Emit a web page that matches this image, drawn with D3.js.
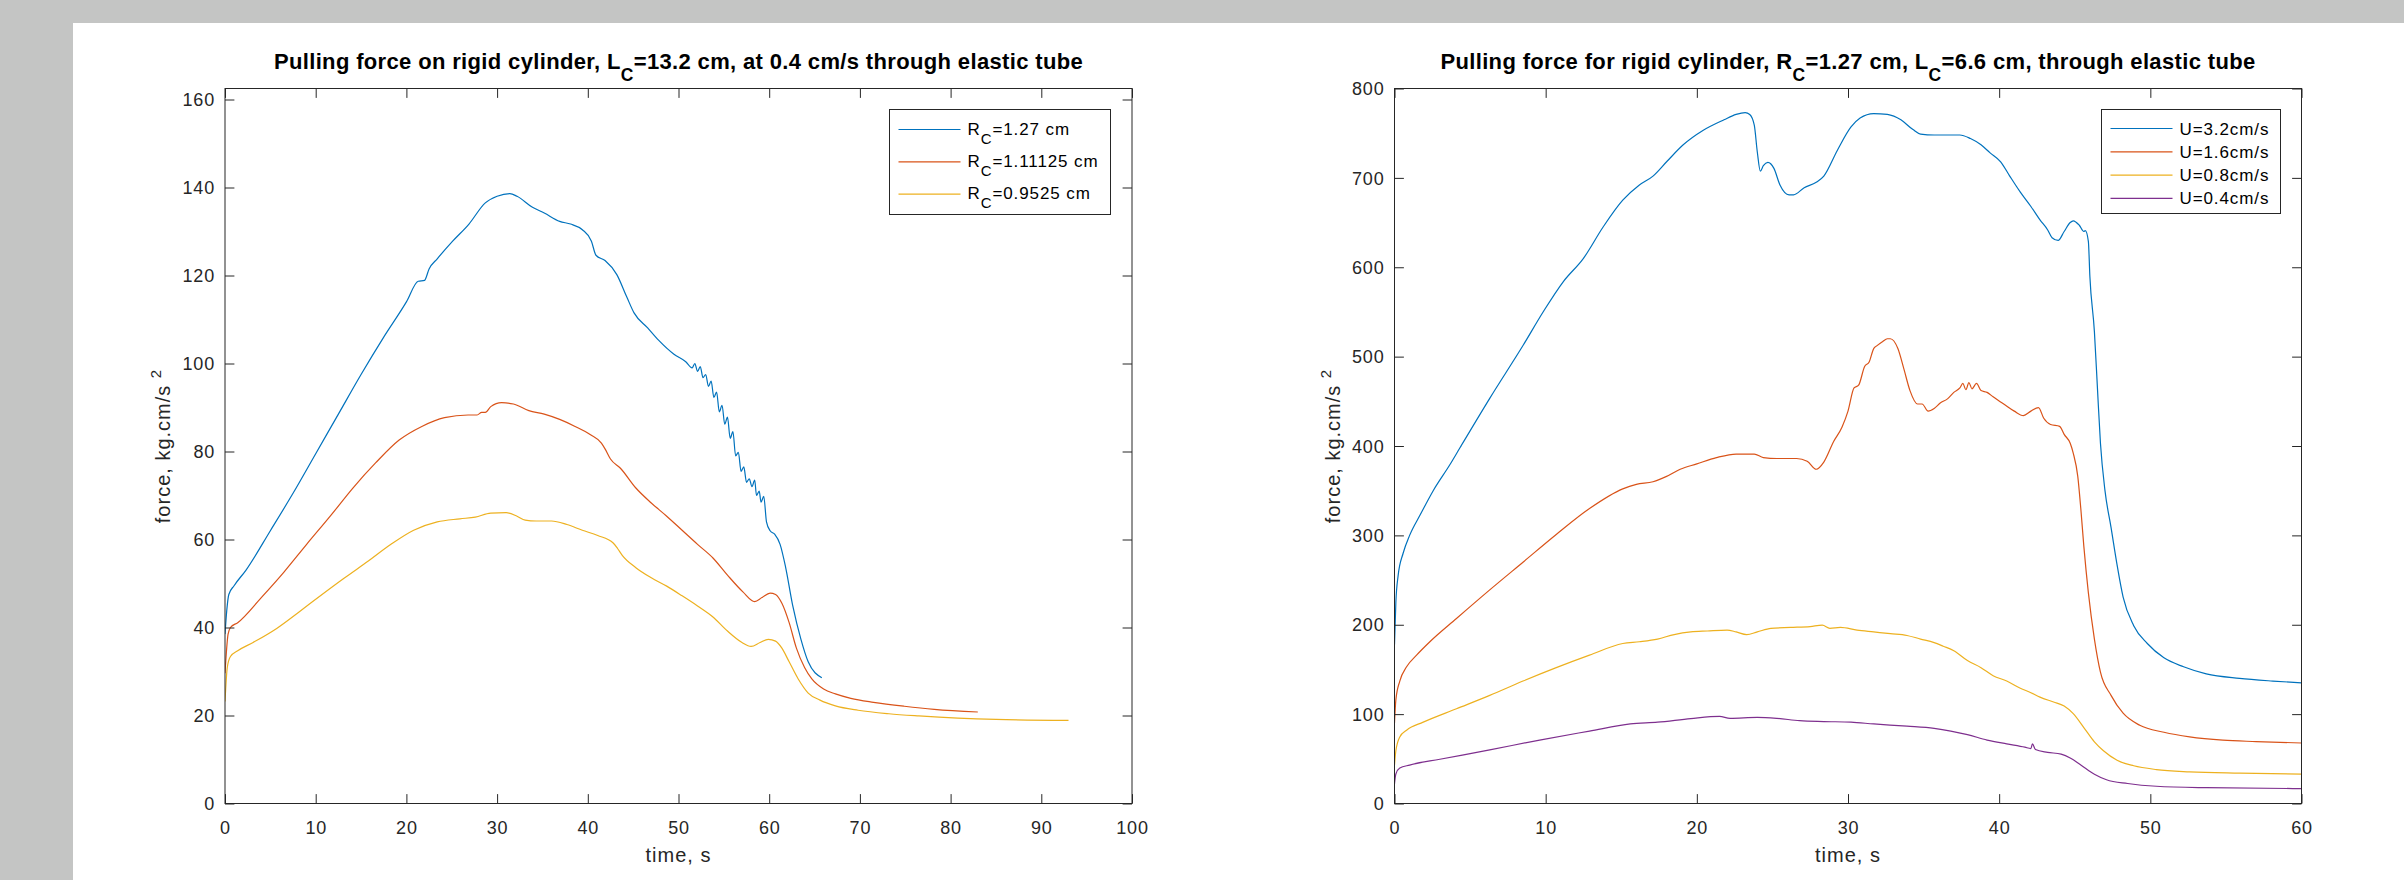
<!DOCTYPE html>
<html>
<head>
<meta charset="utf-8">
<script src="https://cdn.jsdelivr.net/npm/d3@7"></script>
<style>
    body { margin: 0; background: #c4c5c4; }
    svg { display: block; }
    text { font-family: "Liberation Sans", Arial, Helvetica, sans-serif; fill: #262626; }
    .tick text { font-size: 18px; letter-spacing: 0.8px; }
    .tick line { stroke: #262626; }
    .title { font-size: 22px; font-weight: bold; letter-spacing: 0.35px; fill: #000; }
    .axislabel { font-size: 20px; letter-spacing: 1px; }
    .legend text { font-size: 17px; letter-spacing: 0.9px; fill: #000; }
</style>
</head>
<body>
<script>
    // ---- data: [time s, force kg.cm/s^2] ----
    var leftR127 = [[0,38.5],[0.2,44],[0.42,47.5],[1,49.5],[2.3,53],[5,62],[7.5,70.5],[10,79.5],[12.5,88.5],[15,97.5],
        [17.5,106],[20,114],[21.3,118.7],[22,118.9],[22.5,121.5],[23.4,123.8],[25.1,127.8],[26.9,131.7],[28.7,136.5],
        [30,138],[31.4,138.6],[32.2,138],[33.9,135.5],[35.2,134.2],[36.9,132.3],[38.1,131.7],[39.4,130.4],[40.4,127.8],
        [40.9,124.6],[41.9,123.4],[43.2,120.2],[44.3,115.1],[45.1,111.5],[46.6,108.1],[47.8,105.3],[49.5,102.1],[50.8,100.4],
        [51.5,99],[51.8,100],[52.1,98.2],[52.4,99.3],[52.7,96.8],[53,97.5],[53.3,94.8],[53.6,96],[53.9,92.3],[54.2,93.5],
        [54.5,89],[54.8,90.5],[55.1,86.2],[55.4,87.8],[55.7,83],[56,84.5],[56.3,79],[56.6,79.8],[56.9,75.5],[57.2,76.5],
        [57.5,73],[57.8,73.8],[58.1,72],[58.4,73.5],[58.6,70],[58.9,71],[59.1,68.5],[59.4,69.8],[59.7,64],[60.1,62],
        [60.6,61.2],[61.2,58.9],[61.8,53.8],[62.6,44.9],[63.5,37.3],[64.3,32.2],[65.8,28.6]];
    var leftR111 = [[0,29.6],[0.34,38.5],[0.6,40],[1.4,41.1],[4,46.8],[6.5,52.6],[9,58.9],[11.6,65.3],[14.1,71.7],[16.6,77.4],
        [19.2,82.6],[21.7,85.7],[24.2,87.7],[26.8,88.3],[27.8,88.3],[28.3,88.9],[28.7,88.9],[29.3,90.2],[30.5,91.1],[31.8,90.8],
        [33.5,89.3],[35.2,88.5],[36.9,87.3],[38.6,85.7],[40.3,83.8],[41.5,81.9],[41.9,80.6],[42.5,78.3],[43.6,76.2],[45.3,71.7],
        [47,68.3],[48.7,65.3],[50.4,62.1],[52.1,58.9],[53.8,55.8],[55.4,51.9],[57.1,48.1],[58.4,45.9],[59.2,46.8],[60.1,47.8],
        [60.7,47.5],[61.4,45.5],[62.2,41.1],[63,35.3],[63.9,30.9],[64.7,28.3],[66,26],[67.3,24.9],[69,23.9],[71.5,23],
        [74.9,22.1],[78.2,21.4],[83,20.8]];
    var leftR095 = [[0,23.2],[0.25,30.9],[0.6,33.4],[1.4,34.7],[3.1,36.6],[5.7,39.8],[8.2,43.6],[10.7,47.5],[13.2,51.3],
        [15.8,55.1],[18.3,58.9],[20.8,62.1],[23.4,64],[25.9,64.7],[27.6,65.1],[29.3,66],[31,66.1],[32.2,65.3],[33.1,64.4],
        [34.3,64.2],[36,64.2],[37.7,63.4],[39.4,62.1],[41.1,60.9],[42.8,59.2],[43.3,57.9],[43.8,56.4],[45.3,53.6],[47,51.3],
        [48.7,49.4],[50.4,47.2],[52.1,44.9],[53.8,42.4],[55.4,39.2],[57,36.6],[58,35.7],[59,36.6],[59.9,37.3],[60.7,36.9],
        [61.4,35.3],[62.2,32.2],[63.2,28.3],[64.3,25.1],[65.6,23.5],[67.3,22.2],[69.8,21.2],[73.2,20.4],[76.5,19.9],
        [80.8,19.4],[85,19.1],[93,18.9]];

    var rightU32 = [[0,178],[0.09,225],[0.24,255],[0.57,280],[1,300],[1.7,323],[2.56,350],[3.66,379],[4.33,398],[6.31,453.6],
        [8.52,513],[9.85,550.5],[11.17,584],[12.5,610],[13.8,645],[15.1,675],[16.2,692],[17.1,702],[18,718],[19.1,737],
        [20.4,753],[21.8,765],[22.6,771],[23.2,773],[23.5,771],[23.8,759],[24,729],[24.2,707.6],[24.4,713.6],[24.7,717.3],
        [25.1,710.6],[25.5,692],[26.1,681],[26.4,681],[27.1,689],[27.9,695],[28.4,702],[29.3,731],[30.2,757],[30.8,767],
        [31.7,772],[32.6,771],[33.5,765],[34.3,754],[34.8,749],[35.7,748],[36.8,748],[37.4,748],[38.1,744],[38.8,737],
        [39.4,728],[40.1,718],[40.7,702],[41.4,684],[42.1,668],[42.7,653],[43.2,642],[43.5,633],[43.9,630],[44.3,640],
        [44.7,650],[44.9,652],[45.3,647],[45.6,640],[45.7,641],[45.9,629],[46,590],[46.3,528],[46.5,465],[46.7,403],[47,350],
        [47.4,309],[47.8,267],[48.2,231],[48.9,199],[49.8,179],[50.9,163],[52.2,153],[53.7,145],[55.9,140],[58.1,137],[60,135]];
    var rightU16 = [[0,90],[0.09,116],[0.35,137],[0.8,153],[1.46,166],[2.34,181],[4.1,207],[6.3,239],[8.5,270],[10.7,301],
        [12.9,330],[15.1,352],[16,357],[17.1,360],[18,366],[18.9,374],[20,380],[21.3,387],[22.6,391],[23.8,391],[24.4,387],
        [25.3,386],[26.6,386],[27.3,383],[27.9,374],[28.4,382],[29.05,405],[29.6,421],[30,439],[30.4,465],[30.7,468],[31.1,489],
        [31.4,494],[31.7,509],[31.9,512],[32.3,517],[32.6,520],[32.8,520],[33.3,509],[33.7,486],[34.1,462],[34.6,447],
        [34.9,447],[35.3,439],[35.7,442],[36.1,448],[36.6,453],[37,460],[37.4,465],[37.6,470],[37.8,463],[38,471],[38.2,464],
        [38.5,470],[38.8,462],[39.2,460],[39.6,455],[40.3,447],[41,439],[41.6,434],[42.1,439],[42.6,443],[42.95,431],[43.4,424],
        [44,422],[44.3,413],[44.7,403],[44.9,392],[45.2,366],[45.4,330],[45.6,288],[45.9,236],[46.3,184],[46.7,147],[47.4,121],
        [48.2,101],[49.3,87.5],[50.9,79.7],[52.6,74.5],[54.8,70.8],[57,69.3],[60,67.7]];
    var rightU08 = [[0,43],[0.09,59],[0.35,74.5],[0.8,82],[1.9,91],[4.1,106],[6.3,121],[8.5,137],[10.7,152],[12.9,166],
        [15.1,179],[16.2,181],[17.4,184],[18.5,189],[19.6,192],[20.7,193],[22,194],[22.6,192],[23.3,189],[24,192],[24.9,196],
        [26.2,197],[27.5,198],[28.3,199.5],[28.8,196],[29.5,197],[30.6,194],[31.7,192],[32.8,190],[33.9,188],[34.8,184],
        [35.7,180],[36.3,176],[37,171],[37.9,160],[38.8,152],[39.6,143],[40.5,137],[41.4,129],[42.1,124],[42.7,119],
        [43.6,113.5],[44.3,109],[44.9,100.5],[45.6,85],[46.3,69],[46.9,59],[47.8,48.4],[48.9,42.2],[50.4,38],[52.6,35.4],
        [55.9,33.9],[60,32.8]];
    var rightU04 = [[0,22],[0.09,33],[0.35,39.6],[1,43],[3,49.5],[6.3,60],[9.6,71],[12.9,81],[15.6,89],[17.4,91],[19.6,95],
        [21.5,97.4],[22.2,95.3],[24,96.4],[25.3,95.3],[26.8,92.7],[28.4,91.7],[30.2,91],[31.7,89],[33.9,86.5],[35.7,84],
        [36.8,81],[37.9,77],[39.2,71],[40.5,66.7],[41.7,63],[42.1,61.5],[42.2,66.7],[42.4,60.4],[43.2,57.3],[44.1,55.2],
        [44.7,51],[45.4,43.2],[46.3,32.8],[47.1,26.6],[48.5,22.4],[50.4,19.3],[53.7,17.7],[60,16.7]];

    var leftXTicks = [0, 10, 20, 30, 40, 50, 60, 70, 80, 90, 100];
    var leftYTicks = [0, 20, 40, 60, 80, 100, 120, 140, 160];
    var rightXTicks = [0, 10, 20, 30, 40, 50, 60];
    var rightYTicks = [0, 100, 200, 300, 400, 500, 600, 700, 800];

    var leftLegend = ["=1.27 cm", "=1.11125 cm", "=0.9525 cm"];
    var rightLegend = ["U=3.2cm/s", "U=1.6cm/s", "U=0.8cm/s", "U=0.4cm/s"];

    var COLORS = ["#0072bd", "#d95319", "#edb120", "#7e2f8e"];

    const CANVAS = { WIDTH: 2404, HEIGHT: 880 };
    const PLOT = { TOP: 88.5, BOTTOM: 803.5, WIDTH: 907 };
    const TICK = 9.4;

    var svg = d3.select("body").append("svg")
        .attr("width", CANVAS.WIDTH)
        .attr("height", CANVAS.HEIGHT);

    // white figure area
    svg.append("rect")
        .attr("x", 73).attr("y", 23)
        .attr("width", CANVAS.WIDTH - 73).attr("height", CANVAS.HEIGHT - 23)
        .attr("fill", "#fff");

    // text with tex-like sub/superscripts
    function richText(sel, parts, subSize, drop) {
        parts.forEach(function(p) {
            var t = sel.append("tspan").text(p.t);
            if (p.sub) t.attr("font-size", subSize).attr("dy", drop);
            if (p.sup) t.attr("font-size", subSize).attr("dy", -drop);
            if (p.back) t.attr("dy", p.back);
        });
    }

    function drawPanel(cfg) {
        var x = d3.scaleLinear().domain(cfg.xDomain).range([cfg.left, cfg.left + PLOT.WIDTH]);
        var y = d3.scaleLinear().domain(cfg.yDomain).range([PLOT.BOTTOM, PLOT.TOP]);

        var g = svg.append("g");

        // clip
        g.append("clipPath").attr("id", "clip" + cfg.id)
            .append("rect")
            .attr("x", cfg.left).attr("y", PLOT.TOP)
            .attr("width", PLOT.WIDTH).attr("height", PLOT.BOTTOM - PLOT.TOP);

        var line = d3.line()
            .x(function(d) { return x(d[0]); })
            .y(function(d) { return y(d[1]); })
            .curve(d3.curveMonotoneX);

        g.append("g")
            .attr("clip-path", "url(#clip" + cfg.id + ")")
            .selectAll("path")
            .data(cfg.series)
            .enter()
            .append("path")
            .attr("d", line)
            .attr("fill", "none")
            .attr("stroke", function(d, i) { return COLORS[i]; })
            .attr("stroke-width", 1.2);

        // axes, ticks inward on all four sides
        var bottom = g.append("g")
            .attr("transform", "translate(0," + PLOT.BOTTOM + ")")
            .call(d3.axisBottom(x).tickValues(cfg.xTicks).tickSizeInner(-TICK).tickSizeOuter(0).tickFormat(d3.format("d")));
        bottom.selectAll("text").attr("y", 30).attr("dy", 0);

        g.append("g")
            .attr("transform", "translate(0," + PLOT.TOP + ")")
            .call(d3.axisTop(x).tickValues(cfg.xTicks).tickSizeInner(-TICK).tickSizeOuter(0).tickFormat(""));

        var leftAx = g.append("g")
            .attr("transform", "translate(" + cfg.left + ",0)")
            .call(d3.axisLeft(y).tickValues(cfg.yTicks).tickSizeInner(-TICK).tickSizeOuter(0).tickFormat(d3.format("d")));
        leftAx.selectAll("text").attr("x", -10).attr("dy", "0.34em");

        g.append("g")
            .attr("transform", "translate(" + (cfg.left + PLOT.WIDTH) + ",0)")
            .call(d3.axisRight(y).tickValues(cfg.yTicks).tickSizeInner(-TICK).tickSizeOuter(0).tickFormat(""));

        g.selectAll(".domain").remove();
        g.selectAll(".tick").attr("font-family", null).attr("font-size", null);

        // frame
        g.append("rect")
            .attr("x", cfg.left).attr("y", PLOT.TOP)
            .attr("width", PLOT.WIDTH).attr("height", PLOT.BOTTOM - PLOT.TOP)
            .attr("fill", "none").attr("stroke", "#262626").attr("stroke-width", 1);

        // title
        var title = g.append("text")
            .attr("class", "title")
            .attr("x", cfg.left + PLOT.WIDTH / 2)
            .attr("y", 69)
            .attr("text-anchor", "middle");
        richText(title, cfg.title, 17.5, 12);

        // axis labels
        g.append("text")
            .attr("class", "axislabel")
            .attr("x", cfg.left + PLOT.WIDTH / 2)
            .attr("y", 862)
            .attr("text-anchor", "middle")
            .text("time, s");

        var ylab = g.append("text")
            .attr("class", "axislabel")
            .attr("text-anchor", "middle")
            .attr("transform", "translate(" + (cfg.left - 55) + "," + ((PLOT.TOP + PLOT.BOTTOM) / 2) + ") rotate(-90)");
        richText(ylab, [{ t: "force, kg.cm/s " }, { t: "2", sup: true }], 15, 9);

        // legend
        var lg = g.append("g").attr("class", "legend");
        lg.append("rect")
            .attr("x", cfg.legend.x).attr("y", cfg.legend.y)
            .attr("width", cfg.legend.w).attr("height", cfg.legend.h)
            .attr("fill", "#fff").attr("stroke", "#262626").attr("stroke-width", 1);

        var rows = lg.selectAll("g.row")
            .data(cfg.legendText)
            .enter()
            .append("g")
            .attr("class", "row")
            .attr("transform", function(d, i) {
                return "translate(" + cfg.legend.x + "," + (cfg.legend.first + i * cfg.legend.step) + ")";
            });
        rows.append("line")
            .attr("x1", 9).attr("x2", 71)
            .attr("stroke", function(d, i) { return COLORS[i]; })
            .attr("stroke-width", 1.2);
        rows.each(function(d) {
            var t = d3.select(this).append("text").attr("x", 78).attr("y", cfg.legend.base);
            if (cfg.id === "L") {
                richText(t, [{ t: "R" }, { t: "C", sub: true }, { t: d, back: -9 }], 15, 9);
            } else {
                t.text(d);
            }
        });
    }

    drawPanel({
        id: "L",
        left: 225,
        xDomain: [0, 100],
        yDomain: [0, 162.5],
        xTicks: leftXTicks,
        yTicks: leftYTicks,
        series: [leftR127, leftR111, leftR095],
        title: [{ t: "Pulling force on rigid cylinder, L" }, { t: "C", sub: true },
                { t: "=13.2 cm, at 0.4 cm/s through elastic tube", back: -12 }],
        legendText: leftLegend,
        legend: { x: 889.5, y: 109.5, w: 221, h: 105, first: 129.5, step: 32.3, base: 5 }
    });

    drawPanel({
        id: "R",
        left: 1394.5,
        xDomain: [0, 60],
        yDomain: [0, 800],
        xTicks: rightXTicks,
        yTicks: rightYTicks,
        series: [rightU32, rightU16, rightU08, rightU04],
        title: [{ t: "Pulling force for rigid cylinder, R" }, { t: "C", sub: true },
                { t: "=1.27 cm, L", back: -12 }, { t: "C", sub: true },
                { t: "=6.6 cm, through elastic tube", back: -12 }],
        legendText: rightLegend,
        legend: { x: 2101.5, y: 109.5, w: 179, h: 104, first: 128.5, step: 23.3, base: 6 }
    });
</script>
</body>
</html>
